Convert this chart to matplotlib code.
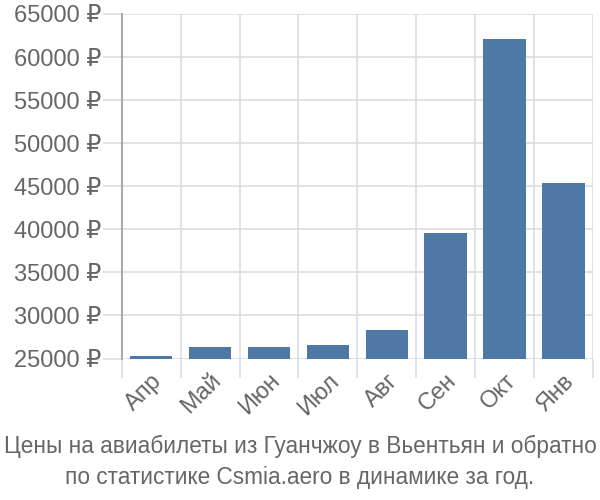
import matplotlib
matplotlib.use("Agg")
import matplotlib.pyplot as plt
from matplotlib.ticker import FixedLocator

plt.rcParams['font.family'] = ['Liberation Sans', 'DejaVu Sans']

months = ["Апр", "Май", "Июн", "Июл", "Авг", "Сен", "Окт", "Янв"]
prices = [25300, 26300, 26300, 26600, 28300, 39600, 62100, 45400]
yticks = list(range(25000, 65001, 5000))

grid_c = "#dddddd"
text_c = "#666666"

fig = plt.figure(figsize=(6, 5), dpi=100)
ax = fig.add_axes([0.203, 0.283, 0.785, 0.689])

x = range(len(months))
ax.bar(x, prices, width=0.72, color="#4e79a7", zorder=3)

ax.set_xlim(-0.5, len(months) - 0.5)
ax.set_ylim(yticks[0], yticks[-1])

ax.set_yticks(yticks)
ax.set_yticklabels([f"{v} ₽" for v in yticks])
ax.set_xticks(list(x))
ax.set_xticklabels(months, rotation=45, ha="right", rotation_mode="anchor")
ax.xaxis.set_minor_locator(FixedLocator([i + 0.5 for i in range(-1, len(months))]))

ax.grid(True, axis="y", color=grid_c, linewidth=1.2, zorder=0)
ax.grid(True, axis="x", which="minor", color=grid_c, linewidth=1.2, zorder=0)

ax.tick_params(axis="y", length=14, color=grid_c, width=1.2, labelsize=17, labelcolor=text_c, pad=1)
ax.tick_params(axis="x", which="major", length=0, labelsize=17, labelcolor=text_c, pad=8)
ax.tick_params(axis="x", which="minor", length=14, color=grid_c, width=1.2)

for s in ["top", "right", "bottom"]:
    ax.spines[s].set_visible(False)
ax.spines["left"].set_color("#aaaaaa")
ax.spines["left"].set_linewidth(1.5)

fig.text(0.5, 0.077, "Цены на авиабилеты из Гуанчжоу в Вьентьян и обратно\nпо статистике Csmia.aero в динамике за год.",
         ha="center", va="center", fontsize=16.3, color=text_c, linespacing=1.45)

fig.savefig("out.png", dpi=100)
